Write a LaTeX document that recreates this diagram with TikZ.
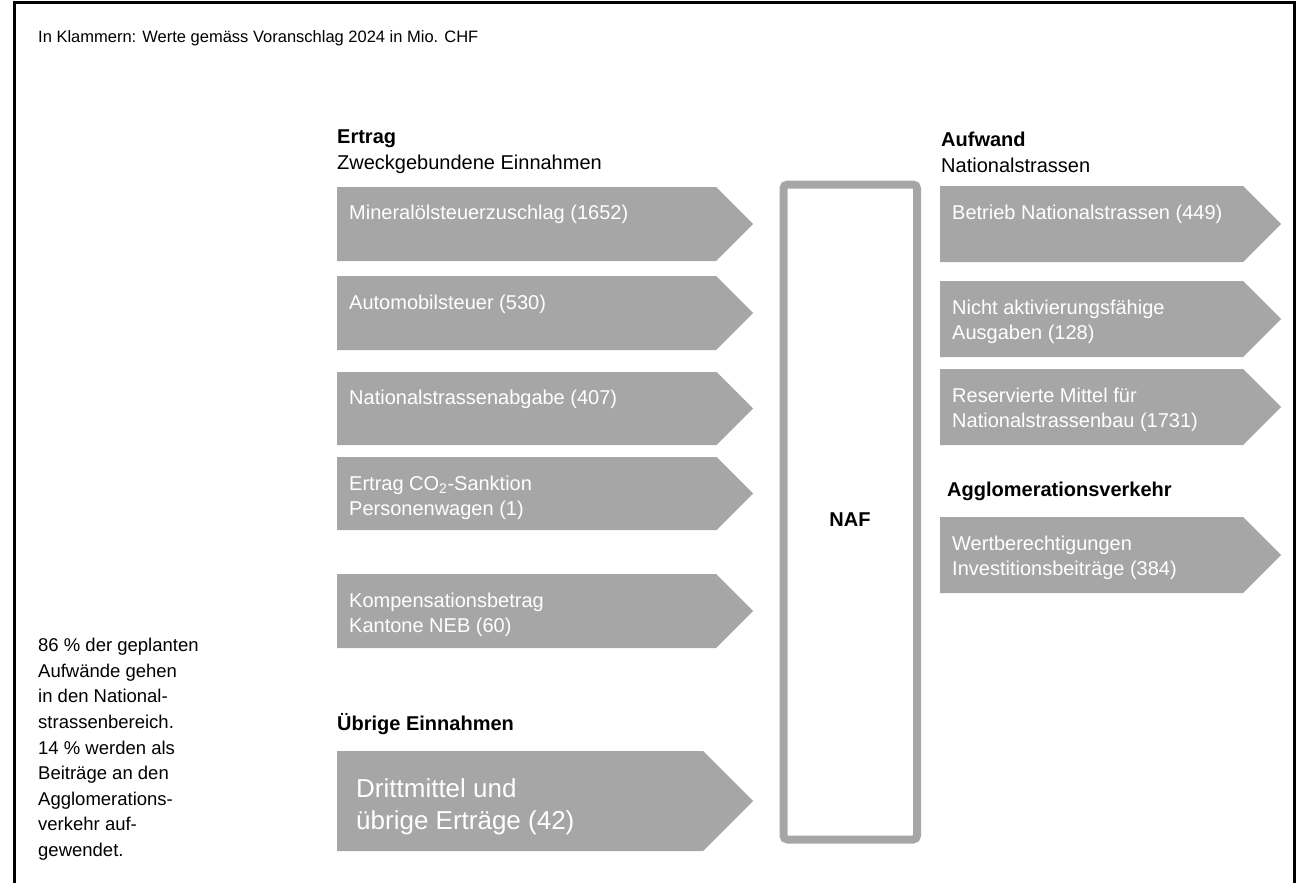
\documentclass[tikz,border=0pt]{standalone}
\usepackage{fontspec}
\setmainfont{Liberation Sans}
\definecolor{afill}{HTML}{A6A6A6}
\newcommand\garrow[5]{% name, left x, top y, bottom y, tip x
  \fill[afill] (#2,#3) -- ({#5-(#4-#3)/2},#3) -- (#5,{(#3+#4)/2}) -- ({#5-(#4-#3)/2},#4) -- (#2,#4) -- cycle;
  \coordinate (#1) at ({(#2+#5)/2},{(#3+#4)/2});}
\begin{document}
\begin{tikzpicture}[x=1pt,y=-1pt,
  txt/.style={inner sep=0pt, anchor=north west, align=left, font=\fontsize{20}{25}\selectfont},
  intxt/.style={txt, text=white},
  head/.style={txt, font=\fontsize{20}{26}\selectfont},
  bighead/.style={txt, font=\bfseries\fontsize{20}{26}\selectfont}]
\useasboundingbox (0,0) rectangle (1301,883);
% frame
\draw[line width=3pt] (14,883) -- (14,3) -- (1294,3) -- (1294,883);
% title
\node[txt, font=\fontsize{16.5}{20}\selectfont] (title) at (38,30) {In Klammern: Werte gemäss Voranschlag 2024 in Mio. CHF};
% note
\node[txt, font=\fontsize{18.5}{25.6}\selectfont] (note) at (38,638) {86 \% der geplanten\\Aufwände gehen\\in den National-\\strassenbereich.\\14 \% werden als\\Beiträge an den\\Agglomerations-\\verkehr auf-\\gewendet.};
% left headings
\node[head] (hertrag) at (337,130) {\textbf{Ertrag}\\Zweckgebundene Einnahmen};
\node[bighead] (huebrige) at (337,713) {Übrige Einnahmen};
% left arrows
\garrow{a1}{337}{187}{261}{753}
\garrow{a2}{337}{276}{350}{753}
\garrow{a3}{337}{372}{445}{753}
\garrow{a4}{337}{457}{530}{753}
\garrow{a5}{337}{574}{648}{753}
\garrow{a6}{337}{751}{851}{753}
\node[intxt] (t1) at (349,205) {Mineralölsteuerzuschlag (1652)};
\node[intxt] (t2) at (349,295) {Automobilsteuer (530)};
\node[intxt] (t3) at (349,390) {Nationalstrassenabgabe (407)};
\node[intxt] (t4) at (349,476) {Ertrag CO\textsubscript{2}-Sanktion\\Personenwagen (1)};
\node[intxt] (t5) at (349,593) {Kompensationsbetrag\\Kantone NEB (60)};
\node[intxt, font=\fontsize{26}{32}\selectfont] (t6) at (356,778) {Drittmittel und\\übrige Erträge (42)};
% NAF
\draw[afill, line width=8pt, rounded corners=4pt] (783.5,184.5) rectangle (917,839.5);
\node[font=\bfseries\fontsize{20}{24}\selectfont] (naf) at (850,520) {NAF};
% right headings
\node[head] (haufwand) at (941,132) {\textbf{Aufwand}\\Nationalstrassen};
\node[bighead] (hagglo) at (947,482) {Agglomerationsverkehr};
% right arrows
\garrow{r1}{940}{186}{262}{1281}
\garrow{r2}{940}{281}{357}{1281}
\garrow{r3}{940}{369}{445}{1281}
\garrow{r4}{940}{517}{593}{1281}
\node[intxt] (u1) at (952,205) {Betrieb Nationalstrassen (449)};
\node[intxt] (u2) at (952,300) {Nicht aktivierungsfähige\\Ausgaben (128)};
\node[intxt] (u3) at (952,388) {Reservierte Mittel für\\Nationalstrassenbau (1731)};
\node[intxt] (u4) at (952,536) {Wertberechtigungen\\Investitionsbeiträge (384)};
\end{tikzpicture}
\end{document}
